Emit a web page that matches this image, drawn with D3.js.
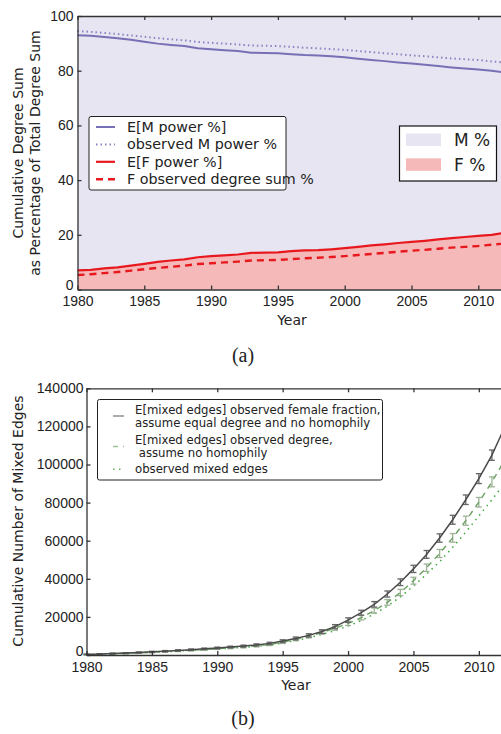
<!DOCTYPE html>
<html>
<head>
<meta charset="utf-8">
<script src="https://cdn.jsdelivr.net/npm/d3@7"></script>
<style>
    body { margin: 0; background: #fff; }
    svg { display: block; font-family: 'DejaVu Sans', sans-serif; }
    .axis text { font-size: 14px; fill: #222; }
    .axis path, .axis line { stroke: #333; stroke-width: 1.3; }
    .lbl { font-size: 14px; fill: #222; }
    .leg { font-size: 14.3px; fill: #222; }
    .leg-b { font-size: 11.7px; fill: #222; }
</style>
</head>
<body>
<div id="chart"></div>
<script>
const YEARS = d3.range(1980, 2013);
const X_TICKS = [1980, 1985, 1990, 1995, 2000, 2005, 2010];

// (a) percentages of total degree sum
const expMPower = [93.0, 92.8, 92.3, 91.9, 91.3, 90.6, 89.9, 89.4, 89.0, 88.2, 87.8, 87.5, 87.2, 86.6, 86.5, 86.4, 86.0,
    85.7, 85.6, 85.3, 84.9, 84.4, 83.9, 83.5, 83.0, 82.6, 82.2, 81.7, 81.2, 80.8, 80.4, 80.0, 79.3];
const obsMPower = [94.5, 94.2, 93.8, 93.4, 92.9, 92.4, 91.9, 91.5, 91.1, 90.5, 90.2, 89.9, 89.6, 89.2, 89.1, 89.0, 88.7,
    88.4, 88.2, 87.9, 87.6, 87.2, 86.8, 86.4, 86.0, 85.6, 85.3, 84.9, 84.5, 84.2, 83.9, 83.4, 83.0];
const expFPower = [7.0, 7.2, 7.7, 8.1, 8.7, 9.4, 10.1, 10.6, 11.0, 11.8, 12.2, 12.5, 12.8, 13.4, 13.5, 13.6, 14.0,
    14.3, 14.4, 14.7, 15.1, 15.6, 16.1, 16.5, 17.0, 17.4, 17.8, 18.3, 18.8, 19.2, 19.6, 20.0, 20.7];
const obsFDegree = [5.3, 5.6, 6.0, 6.4, 6.9, 7.4, 7.9, 8.3, 8.7, 9.3, 9.6, 9.9, 10.2, 10.6, 10.7, 10.8, 11.1,
    11.4, 11.6, 11.9, 12.2, 12.6, 13.0, 13.4, 13.8, 14.2, 14.5, 14.9, 15.3, 15.6, 15.9, 16.4, 16.8];
const PCT_TICKS = [0, 20, 40, 60, 80, 100];

// (b) cumulative mixed edges
const expMixedEqual = [300, 500, 750, 1000, 1300, 1650, 2000, 2400, 2800, 3250, 3700, 4200, 4700, 5300, 6100, 7300, 8700,
    10300, 12300, 14900, 18300, 22200, 26600, 32000, 38200, 45200, 52800, 61400, 71000, 81500, 92600, 104900, 120000];
const errMixedEqual = [200, 200, 250, 250, 300, 300, 350, 350, 400, 400, 450, 450, 500, 550, 600, 700, 750,
    850, 950, 1050, 1200, 1300, 1450, 1600, 1750, 1900, 2050, 2200, 2350, 2500, 2600, 2700, 2800];
const expMixedDegree = [250, 450, 650, 900, 1150, 1450, 1800, 2150, 2500, 2900, 3300, 3750, 4200, 4750, 5500, 6700, 8200,
    9800, 11800, 14000, 16600, 19600, 23300, 27600, 32800, 39000, 45800, 53300, 61500, 70500, 80200, 90900, 102500];
const errMixedDegree = [200, 200, 200, 250, 250, 300, 300, 350, 350, 400, 400, 450, 450, 500, 550, 650, 700,
    800, 900, 1000, 1100, 1200, 1350, 1500, 1650, 1800, 1950, 2100, 2250, 2400, 2500, 2600, 2700];
const obsMixed = [200, 400, 600, 850, 1100, 1400, 1700, 2050, 2400, 2750, 3150, 3550, 4000, 4500, 5200, 6300, 7600,
    9100, 10800, 12800, 15200, 18000, 21500, 25600, 30500, 36200, 42400, 49000, 56500, 64500, 73000, 81500, 90500];
const EDGE_TICKS = [0, 20000, 40000, 60000, 80000, 100000, 120000, 140000];

const svg = d3.select('#chart').append('svg').attr('width', 501).attr('height', 734);
svg.append('rect').attr('width', 501).attr('height', 734).attr('fill', '#fff');

function frame(g, x, y, xTicks, yTicks, yFormat, yPad) {
    let [x0, x1] = x.range();
    let [y0, y1] = y.range();
    g.append('g').attr('class', 'axis').attr('transform', `translate(0,${y0})`)
        .call(d3.axisBottom(x).tickValues(xTicks).tickFormat(d3.format('d')).tickSizeInner(-4).tickSizeOuter(0).tickPadding(7));
    g.append('g').attr('class', 'axis').attr('transform', `translate(0,${y1})`)
        .call(d3.axisTop(x).tickValues(xTicks).tickFormat('').tickSizeInner(-4).tickSizeOuter(0));
    let left = g.append('g').attr('class', 'axis').attr('transform', `translate(${x0},0)`)
        .call(d3.axisLeft(y).tickValues(yTicks).tickFormat(yFormat).tickSizeInner(-4).tickSizeOuter(0).tickPadding(yPad));
    // lift the zero label a touch so it clears the first year label
    left.selectAll('.tick text').filter((d) => d === 0).attr('dy', '0.02em');
    g.append('g').attr('class', 'axis').attr('transform', `translate(${x1},0)`)
        .call(d3.axisRight(y).tickValues(yTicks).tickFormat('').tickSizeInner(-4).tickSizeOuter(0));
}

// ---------- (a) ----------
const xa = d3.scaleLinear().domain([1980, 2012]).range([77.5, 505]);
const ya = d3.scaleLinear().domain([0, 100]).range([289.5, 16]);
const ga = svg.append('g');

ga.append('path')
    .attr('d', d3.area().x((d, i) => xa(YEARS[i])).y0(ya(100)).y1((d) => ya(d))(expFPower))
    .attr('fill', '#e7e5f1');
ga.append('path')
    .attr('d', d3.area().x((d, i) => xa(YEARS[i])).y0(ya(0)).y1((d) => ya(d))(expFPower))
    .attr('fill', '#f5b9b9');

const lineA = d3.line().x((d, i) => xa(YEARS[i])).y((d) => ya(d));
const seriesA = [
    { data: expMPower, color: '#7770b5', dash: null, width: 2, label: 'E[M power %]' },
    { data: obsMPower, color: '#8a84c4', dash: '1.5,3', width: 2, label: 'observed M power %' },
    { data: expFPower, color: '#e8191e', dash: null, width: 2.2, label: 'E[F power %]' },
    { data: obsFDegree, color: '#e8191e', dash: '7,5', width: 2.4, label: 'F observed degree sum %' }
];
for (let s of seriesA) {
    ga.append('path').attr('d', lineA(s.data)).attr('fill', 'none')
        .attr('stroke', s.color).attr('stroke-width', s.width).attr('stroke-dasharray', s.dash);
}

frame(ga, xa, ya, X_TICKS, PCT_TICKS, d3.format('d'), 4);

ga.append('text').attr('class', 'lbl').attr('text-anchor', 'middle')
    .attr('transform', 'translate(23,153) rotate(-90)').text('Cumulative Degree Sum');
ga.append('text').attr('class', 'lbl').attr('text-anchor', 'middle')
    .attr('transform', 'translate(40,153) rotate(-90)').text('as Percentage of Total Degree Sum');
ga.append('text').attr('class', 'lbl').attr('text-anchor', 'middle').attr('x', 292).attr('y', 325).text('Year');

// line legend
const legA = ga.append('g');
legA.append('rect').attr('x', 89).attr('y', 116.5).attr('width', 197).attr('height', 73.5).attr('rx', 2)
    .attr('fill', '#fff').attr('stroke', '#222').attr('stroke-width', 1);
seriesA.forEach((s, i) => {
    let y = 127 + i * 17.4;
    legA.append('line').attr('x1', 96).attr('x2', 115).attr('y1', y).attr('y2', y)
        .attr('stroke', s.color).attr('stroke-width', s.width).attr('stroke-dasharray', s.dash);
    legA.append('text').attr('class', 'leg').attr('x', 127).attr('y', y).attr('dy', '0.35em').text(s.label);
});

// patch legend
const legB = ga.append('g');
legB.append('rect').attr('x', 399.5).attr('y', 126).attr('width', 97).attr('height', 55)
    .attr('fill', '#fff').attr('stroke', '#111').attr('stroke-width', 1.2);
[{ fill: '#e7e5f1', label: 'M %', y: 133.5 }, { fill: '#f5b9b9', label: 'F %', y: 158.3 }].forEach((p) => {
    legB.append('rect').attr('x', 406).attr('y', p.y).attr('width', 35).attr('height', 12.5).attr('fill', p.fill);
    legB.append('text').attr('x', 454).attr('y', p.y + 6.5).attr('dy', '0.35em')
        .attr('font-size', 17).attr('fill', '#222').text(p.label);
});

svg.append('text').attr('x', 243).attr('y', 362).attr('text-anchor', 'middle')
    .attr('font-family', "'Liberation Serif', serif").attr('font-size', 20).attr('fill', '#222').text('(a)');

// ---------- (b) ----------
const xb = d3.scaleLinear().domain([1980, 2012]).range([86.5, 505]);
const yb = d3.scaleLinear().domain([0, 140000]).range([655, 388.3]);
const gb = svg.append('g');

const lineB = d3.line().x((d, i) => xb(YEARS[i])).y((d) => yb(d));

function errorBars(vals, errs, color) {
    let g = gb.append('g').attr('stroke', color).attr('stroke-width', 1.3).attr('fill', 'none');
    vals.forEach((v, i) => {
        let x = xb(YEARS[i]);
        let lo = yb(v - errs[i]);
        let hi = yb(v + errs[i]);
        g.append('line').attr('x1', x).attr('x2', x).attr('y1', lo).attr('y2', hi);
        g.append('line').attr('x1', x - 3).attr('x2', x + 3).attr('y1', lo).attr('y2', lo);
        g.append('line').attr('x1', x - 3).attr('x2', x + 3).attr('y1', hi).attr('y2', hi);
    });
}

gb.append('path').attr('d', lineB(obsMixed)).attr('fill', 'none')
    .attr('stroke', '#3fa83f').attr('stroke-width', 1.5).attr('stroke-dasharray', '1.5,4.5');
errorBars(expMixedDegree, errMixedDegree, '#9db296');
gb.append('path').attr('d', lineB(expMixedDegree)).attr('fill', 'none')
    .attr('stroke', '#6a9f62').attr('stroke-width', 1.4).attr('stroke-dasharray', '6,5');
errorBars(expMixedEqual, errMixedEqual, '#666');
gb.append('path').attr('d', lineB(expMixedEqual)).attr('fill', 'none')
    .attr('stroke', '#4a4a4a').attr('stroke-width', 1.5);

frame(gb, xb, yb, X_TICKS, EDGE_TICKS, d3.format('d'), 3);

gb.append('text').attr('class', 'lbl').attr('text-anchor', 'middle')
    .attr('transform', 'translate(23,521) rotate(-90)').text('Cumulative Number of Mixed Edges');
gb.append('text').attr('class', 'lbl').attr('text-anchor', 'middle').attr('x', 296).attr('y', 690).text('Year');

const legC = gb.append('g');
legC.append('rect').attr('x', 97.5).attr('y', 399.5).attr('width', 285).attr('height', 80.5).attr('rx', 2)
    .attr('fill', '#fff').attr('stroke', '#222').attr('stroke-width', 1);
const legEntries = [
    { y: 416, color: '#888', dash: null, lines: ['E[mixed edges] observed female fraction,', 'assume equal degree and no homophily'] },
    { y: 446.5, color: '#9cc494', dash: '5,5', lines: ['E[mixed edges] observed degree,', '\u00a0assume no homophily'] },
    { y: 469.3, color: '#5cb85c', dash: '1.5,4.5', lines: ['observed mixed edges'] }
];
for (let e of legEntries) {
    legC.append('line').attr('x1', 113).attr('x2', 124).attr('y1', e.y).attr('y2', e.y)
        .attr('stroke', e.color).attr('stroke-width', 1.4).attr('stroke-dasharray', e.dash);
    let top = e.y - (e.lines.length - 1) * 6.5;
    e.lines.forEach((t, k) => {
        legC.append('text').attr('class', 'leg-b').attr('x', 135).attr('y', top + k * 13)
            .attr('dy', '0.35em').text(t);
    });
}

svg.append('text').attr('x', 243).attr('y', 725).attr('text-anchor', 'middle')
    .attr('font-family', "'Liberation Serif', serif").attr('font-size', 20).attr('fill', '#222').text('(b)');
</script>
</body>
</html>
